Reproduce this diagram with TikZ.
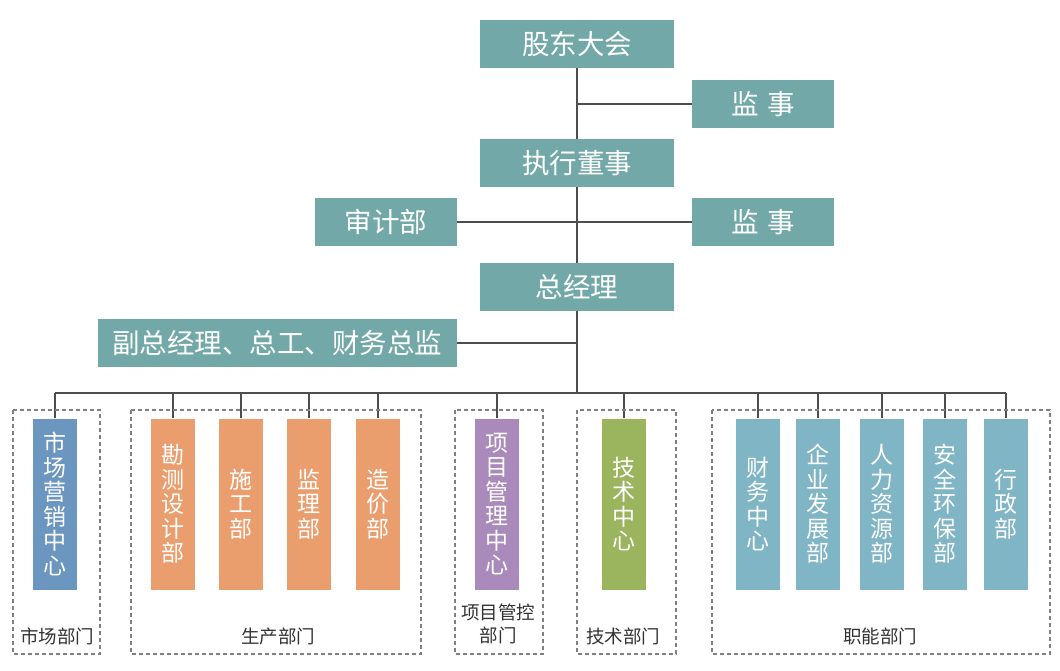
\documentclass[tikz,border=0pt]{standalone}
\usepackage{fontspec}
\usepackage{tikz}
\newfontfamily\cjk{Noto Sans CJK SC}
\definecolor{boxteal}{HTML}{73A8A8}
\definecolor{barblue}{HTML}{6A96C0}
\definecolor{barorange}{HTML}{EA9E6E}
\definecolor{barpurple}{HTML}{AA8ABA}
\definecolor{bargreen}{HTML}{9BB45E}
\definecolor{barcyan}{HTML}{7FB5C4}
\definecolor{linegray}{HTML}{4D4D4D}

\begin{document}
\begin{tikzpicture}[x=1pt,y=-1pt,
  topbox/.style={fill=boxteal,text=white,minimum height=48pt,inner sep=0pt,
    font=\cjk\fontsize{27.5}{28}\selectfont},
  bar/.style={text=white,minimum width=44pt,minimum height=171pt,inner sep=0pt,
    align=center,font=\cjk\fontsize{23}{24.5}\selectfont},
  grp/.style={draw=gray,line width=1.2pt,dash pattern=on 4pt off 3pt},
  grplabel/.style={text=black!80,align=center,font=\cjk\fontsize{18.5}{23}\selectfont},
  link/.style={draw=linegray,line width=1.6pt}]
\useasboundingbox (0,0) rectangle (1060,670);
% top of the chart
\node[topbox,minimum width=194pt] (gd) at (577,44) {股东大会};
\node[topbox,minimum width=142pt] (js1) at (763,104) {监\hspace{9pt}事};
\node[topbox,minimum width=194pt] (zx) at (577,163) {执行董事};
\node[topbox,minimum width=142pt] (sj) at (386,222) {审计部};
\node[topbox,minimum width=142pt] (js2) at (763,222) {监\hspace{9pt}事};
\node[topbox,minimum width=194pt] (zjl) at (577,287) {总经理};
\node[topbox,minimum width=359pt] (fz) at (277,343) {副总经理、总工、财务总监};
\coordinate (bus) at (577,393);
\draw[link] (gd) -- (zx); \draw[link] (zx) -- (zjl); \draw[link] (zjl) -- (bus);
\draw[link] (js1.west) -- (js1.west -| gd.south);
\draw[link] (sj.east) -- (js2.west);
\draw[link] (fz.east) -- (fz.east -| zjl.south);
% departments
\node[bar,fill=barblue] (sc) at (55,504) {市\\场\\营\\销\\中\\心};
\node[bar,fill=barorange] (kc) at (173,504) {勘\\测\\设\\计\\部};
\node[bar,fill=barorange] (sg) at (241,504) {施\\工\\部};
\node[bar,fill=barorange] (jl) at (309,504) {监\\理\\部};
\node[bar,fill=barorange] (zj) at (378,504) {造\\价\\部};
\node[bar,fill=barpurple] (xm) at (497,504) {项\\目\\管\\理\\中\\心};
\node[bar,fill=bargreen] (js) at (624,504) {技\\术\\中\\心};
\node[bar,fill=barcyan] (cw) at (758,504) {财\\务\\中\\心};
\node[bar,fill=barcyan] (qy) at (818,504) {企\\业\\发\\展\\部};
\node[bar,fill=barcyan] (rl) at (882,504) {人\\力\\资\\源\\部};
\node[bar,fill=barcyan] (aq) at (945,504) {安\\全\\环\\保\\部};
\node[bar,fill=barcyan] (xz) at (1006,504) {行\\政\\部};
\draw[link] (sc.north |- bus) -- (xz.north |- bus);
\foreach \n in {sc,kc,sg,jl,zj,xm,js,cw,qy,rl,aq,xz}
  \draw[link] (\n.north |- bus) -- (\n.north);
% department groups
\draw[grp] (13,410) rectangle (100,654);
\draw[grp] (131,410) rectangle (421,654);
\draw[grp] (455,410) rectangle (543,654);
\draw[grp] (577,410) rectangle (676,654);
\draw[grp] (712,410) rectangle (1050,654);
\node[grplabel] (lsc) at (57,636) {市场部门};
\node[grplabel] (lsx) at (278,636) {生产部门};
\node[grplabel] (lxm) at (498,624) {项目管控\\部门};
\node[grplabel] (ljs) at (623,636) {技术部门};
\node[grplabel] (lzn) at (880,636) {职能部门};
\end{tikzpicture}
\end{document}
